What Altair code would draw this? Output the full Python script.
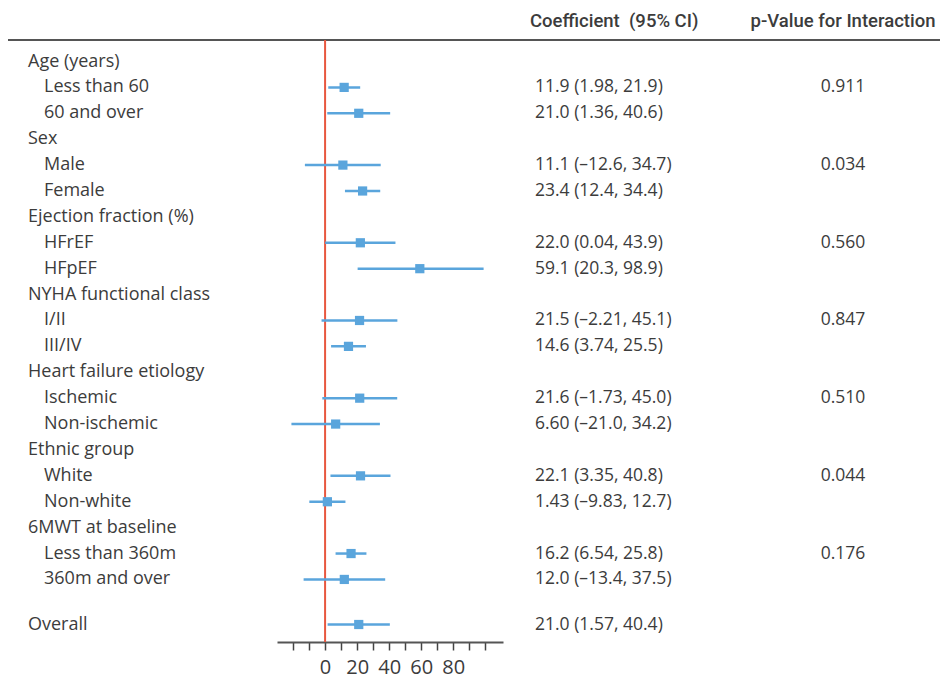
import altair as alt
import pandas as pd

# ---- data ----
groups = ["Age (years)", "Sex", "Ejection fraction (%)", "NYHA functional class",
          "Heart failure etiology", "Ethnic group", "6MWT at baseline"]
subgroups = [["Less than 60", "60 and over"], ["Male", "Female"], ["HFrEF", "HFpEF"],
             ["I/II", "III/IV"], ["Ischemic", "Non-ischemic"], ["White", "Non-white"],
             ["Less than 360m", "360m and over"]]
est_txt = [["11.9", "21.0"], ["11.1", "23.4"], ["22.0", "59.1"], ["21.5", "14.6"],
           ["21.6", "6.60"], ["22.1", "1.43"], ["16.2", "12.0"]]
lo_txt = [["1.98", "1.36"], ["-12.6", "12.4"], ["0.04", "20.3"], ["-2.21", "3.74"],
          ["-1.73", "-21.0"], ["3.35", "-9.83"], ["6.54", "-13.4"]]
hi_txt = [["21.9", "40.6"], ["34.7", "34.4"], ["43.9", "98.9"], ["45.1", "25.5"],
          ["45.0", "34.2"], ["40.8", "12.7"], ["25.8", "37.5"]]
p_values = ["0.911", "0.034", "0.560", "0.847", "0.510", "0.044", "0.176"]
overall = ("Overall", "21.0", "1.57", "40.4")
headers = ["Coefficient\u00a0\u00a0(95% CI)", "p-Value for Interaction"]

tick_values = list(range(-20, 101, 10))

FONT = "Open Sans"
TXT = "#3c3c3c"
BLUE = "#5aa5dc"
RED = "#e8573f"

# ---- build table ----
rows = []
pos = 0.0
for g, subs, es, ls, hs, p in zip(groups, subgroups, est_txt, lo_txt, hi_txt, p_values):
    rows.append(dict(label=g, kind="group", pos=pos, est=None, lo=None, hi=None, ci="", p=""))
    pos += 1
    for i, (s, e, l, h) in enumerate(zip(subs, es, ls, hs)):
        ci = f"{e} ({l.replace('-', '–')}, {h.replace('-', '–')})"
        rows.append(dict(label=s, kind="sub", pos=pos, est=float(e), lo=float(l), hi=float(h),
                         ci=ci, p=p if i == 0 else ""))
        pos += 1
pos += 0.74
name, e, l, h = overall
rows.append(dict(label=name, kind="group", pos=pos, est=float(e), lo=float(l), hi=float(h),
                 ci=f"{e} ({l}, {h})", p=""))
df = pd.DataFrame(rows)
dfe = df.dropna(subset=["est"])

W, H = 932, 634
xscale = alt.Scale(domain=[-30, 111], range=[269, 495], nice=False, zero=False)
yscale = alt.Scale(domain=[0, pos], range=[53.5, 616.5], nice=False, zero=False)

base = alt.Chart(df)

header_line = alt.Chart(pd.DataFrame({"a": [0]})).mark_rule(color="#555555", strokeWidth=2).encode(
    x=alt.value(0), x2=alt.value(W), y=alt.value(32))

zero_line = alt.Chart(pd.DataFrame({"z": [0]})).mark_rule(color=RED, strokeWidth=2).encode(
    x=alt.X("z:Q", scale=xscale,
            axis=alt.Axis(values=tick_values, title=None, grid=False,
                          labelExpr="(datum.value >= 0 && datum.value <= 80 && datum.value % 20 == 0) ? datum.label : ''",
                          labelFont=FONT, labelFontSize=20, labelColor=TXT, labelPadding=7,
                          tickColor="#444444", tickSize=8, tickWidth=1.5,
                          domainColor="#555555", domainWidth=2, labelFlush=False, labelOverlap=False)),
    y=alt.value(32), y2=alt.value(H))

ci_rule = alt.Chart(dfe).mark_rule(color=BLUE, strokeWidth=2.5).encode(
    x=alt.X("lo:Q", scale=xscale), x2="hi:Q", y=alt.Y("pos:Q", scale=yscale, axis=None))

pts = alt.Chart(dfe).mark_square(color=BLUE, size=85, opacity=1, filled=True).encode(
    x=alt.X("est:Q", scale=xscale), y=alt.Y("pos:Q", scale=yscale, axis=None))

lab_kw = dict(font=FONT, fontSize=18, color=TXT, baseline="middle")
num_kw = dict(font=FONT, fontSize=17.5, color=TXT, baseline="middle")

group_txt = base.transform_filter("datum.kind == 'group'").mark_text(align="left", **lab_kw).encode(
    x=alt.value(20), y=alt.Y("pos:Q", scale=yscale, axis=None), text="label:N")
sub_txt = base.transform_filter("datum.kind == 'sub'").mark_text(align="left", **lab_kw).encode(
    x=alt.value(36), y=alt.Y("pos:Q", scale=yscale, axis=None), text="label:N")
ci_txt = alt.Chart(dfe).mark_text(align="left", **num_kw).encode(
    x=alt.value(527), y=alt.Y("pos:Q", scale=yscale, axis=None), text="ci:N")
p_txt = base.transform_filter("datum.p != ''").mark_text(align="center", **num_kw).encode(
    x=alt.value(835), y=alt.Y("pos:Q", scale=yscale, axis=None), text="p:N")

hdr_kw = dict(font="Roboto", fontSize=18.5, fontWeight=500, color=TXT, baseline="middle")
hdr1 = alt.Chart(pd.DataFrame({"t": [headers[0]]})).mark_text(align="left", **hdr_kw).encode(
    x=alt.value(522), y=alt.value(13), text="t:N")
hdr2 = alt.Chart(pd.DataFrame({"t": [headers[1]]})).mark_text(align="center", **hdr_kw).encode(
    x=alt.value(835), y=alt.value(13), text="t:N")

chart = alt.layer(header_line, zero_line, ci_rule, pts, group_txt, sub_txt, ci_txt, p_txt, hdr1, hdr2).properties(
    width=W, height=H, autosize=alt.AutoSizeParams(type="none"),
    padding={"left": 0, "top": 0, "right": 0, "bottom": 37},
    background="white"
).configure_view(stroke=None)

chart.save("out.html", embed_options={"renderer": "svg", "actions": False})
